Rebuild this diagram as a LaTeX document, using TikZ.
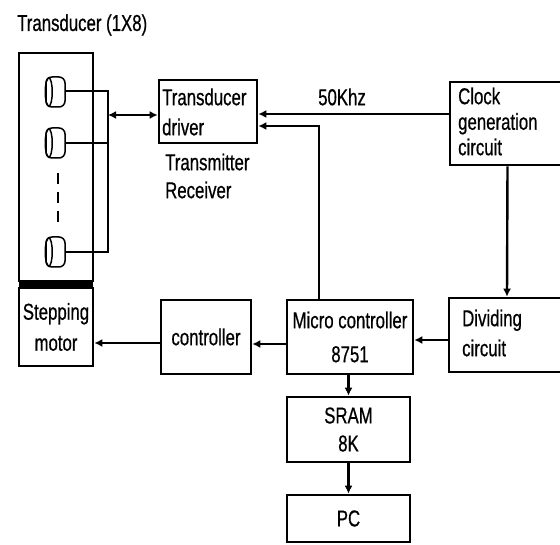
\documentclass[tikz,border=0pt]{standalone}
\usepackage{fontspec}
\setmainfont{Liberation Sans}[FakeStretch=0.73,FakeBold=0.6]
\usetikzlibrary{arrows.meta}
\begin{document}
\begin{tikzpicture}[x=1pt,y=-1pt,
  line width=2.4pt,
  box/.style={draw,rectangle,inner sep=0pt,line width=2.6pt},
  lbl/.style={font=\fontsize{23}{28}\selectfont,inner sep=0pt},
  ar/.style={-{Latex[length=8pt,width=8pt]}},
  cyl/.style={draw,rectangle,rounded corners=6pt,minimum width=19pt,minimum height=30pt,inner sep=0pt,line width=1.5pt}]
\useasboundingbox (0,0) rectangle (560,545);
\clip (0,0) rectangle (560,545);
\fill[white] (0,0) rectangle (560,545);

% title
\node[lbl,anchor=west] (title) at (16,25) {Transducer (1X8)};

% transducer housing
\node[box,minimum width=74pt,minimum height=228pt] (house) at (56,167) {};
\fill (19,280) rectangle (93,288);
\node[box,minimum width=74pt,minimum height=78pt,lbl,align=center] (motor) at (56,327) {Stepping\\[3pt]motor};

% transducer elements
\node[cyl] (t1) at (55.5,92) {};
\node[cyl] (t2) at (55.5,143) {};
\node[cyl] (t3) at (55.5,252) {};
\foreach \n in {t1,t2,t3}{
  \draw[line width=1.5pt] ([xshift=3.5pt]\n.west) ellipse[x radius=3.5pt,y radius=14.2pt];
}
\draw[dash pattern=on 11pt off 8pt] (58,173) -- (58,228);

% bus
\coordinate (b1) at (108,91);
\coordinate (b3) at (108,252);
\coordinate (bm) at (108,115);
\draw (t1.east |- b1) -- (b1) -- (b3) -- (t3.east);
\draw (t2.east) -- (t2.east -| b1);

% boxes
\node[box,minimum width=98pt,minimum height=63pt] (driver) at (208,111.5) {};
\node[lbl,anchor=west,align=left] (drivertxt) at (161,112) {Transducer\\[2pt]driver};
\node[lbl,anchor=west,align=left] (trx) at (164,176) {Transmitter\\Receiver};

\node[box,minimum width=115pt,minimum height=83pt] (clock) at (507.5,123.5) {};
\node[lbl,anchor=west,align=left,font=\fontsize{23}{25.5}\selectfont] (clocktxt) at (457,121.5) {Clock\\generation\\circuit};

\node[box,minimum width=116pt,minimum height=74pt] (div) at (507,335) {};
\node[lbl,anchor=west,align=left] (divtxt) at (461,333) {Dividing\\[2pt]circuit};

\node[box,lbl,minimum width=126pt,minimum height=74pt,align=center] (micro) at (350,337) {Micro controller\\[6pt]8751};
\node[box,lbl,minimum width=90pt,minimum height=74pt] (ctrl) at (206,337) {controller};
\node[box,lbl,minimum width=123pt,minimum height=65pt,align=center] (sram) at (348.5,429.5) {SRAM\\8K};
\node[box,lbl,minimum width=123pt,minimum height=47pt] (pc) at (348.5,518.5) {PC};

\node[lbl] (khz) at (342,97) {50Khz};

% connectors
\draw[{Latex[length=8pt,width=8pt]}-{Latex[length=8pt,width=8pt]}] (bm) -- (bm -| driver.west);
\draw[ar] ([yshift=-2.5pt]driver.east -| clock.west) -- ([yshift=-2.5pt]driver.east);
\coordinate (mup) at ([xshift=-31pt]micro.north);
\coordinate (din) at ([yshift=-14.5pt]driver.east);
\draw[ar] (mup) -- (mup |- din) -- (din);
\draw[ar] (clock.south) -- (div.north);
\draw[ar] ([yshift=-5pt]div.west) -- ([yshift=-5pt]div.west -| micro.east);
\draw[ar] ([yshift=-7pt]micro.west) -- ([yshift=-7pt]micro.west -| ctrl.east);
\draw[ar] ([yshift=-6pt]ctrl.west) -- ([yshift=-6pt]ctrl.west -| motor.east);
\draw[ar] (micro.south -| sram.north) -- (sram.north);
\draw[ar] (sram.south) -- (pc.north);
\end{tikzpicture}
\end{document}
